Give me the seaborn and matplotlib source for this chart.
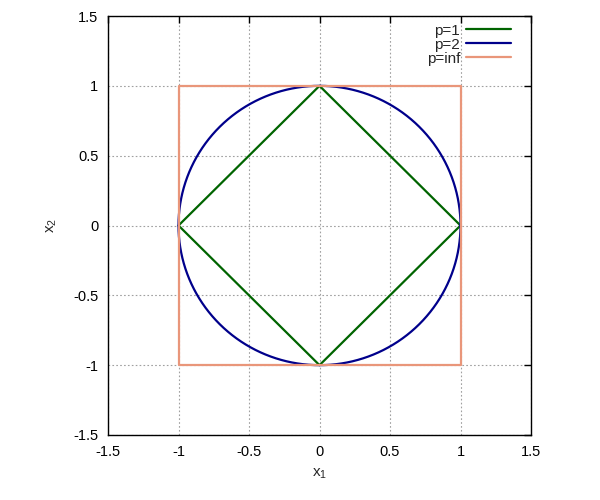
import numpy as np
import pandas as pd
import matplotlib
matplotlib.use("Agg")
import matplotlib.pyplot as plt
import seaborn as sns

# unit balls of the p-norm
p_labels = ["p=1", "p=2", "p=inf"]
p_values = [1.0, 2.0, np.inf]
colors = ["#006400", "#00008b", "#e9967a"]
ticks = [-1.5, -1, -0.5, 0, 0.5, 1, 1.5]
tick_labels = ["-1.5", "-1", "-0.5", "0", "0.5", "1", "1.5"]

t = np.linspace(0, 2 * np.pi, 801)
rows = []
for lab, p in zip(p_labels, p_values):
    d = np.c_[np.cos(t), np.sin(t)]
    n = np.linalg.norm(d, ord=p, axis=1)
    xy = d / n[:, None]
    rows.append(pd.DataFrame({"x1": xy[:, 0], "x2": xy[:, 1], "norm": lab}))
df = pd.concat(rows, ignore_index=True)

sns.set_style("white")
plt.rcParams["font.family"] = ["Liberation Sans", "DejaVu Sans"]

fig = plt.figure(figsize=(6, 5), dpi=100)
ax = fig.add_axes([0.18, 0.13, 0.705, 0.838])
sns.lineplot(data=df, x="x1", y="x2", hue="norm", palette=colors, sort=False,
             estimator=None, linewidth=1.6, ax=ax)

ax.set_xlim(-1.5, 1.5)
ax.set_ylim(-1.5, 1.5)
ax.set_xticks(ticks)
ax.set_xticklabels(tick_labels)
ax.set_yticks(ticks)
ax.set_yticklabels(tick_labels)
ax.tick_params(direction="in", top=True, right=True, length=5, width=1,
               labelsize=10.5, colors="black", pad=7)
ax.grid(True, color="#a0a0a0", linestyle=(0, (1.5, 2)), linewidth=0.8)
for s in ax.spines.values():
    s.set_color("black")
    s.set_linewidth(1)
ax.set_xlabel(r"$\mathregular{x_1}$", fontsize=11, labelpad=6)
ax.set_ylabel(r"$\mathregular{x_2}$", fontsize=11, labelpad=10)

leg = ax.legend(loc="upper right", bbox_to_anchor=(1 - 12 / 423, 1), frameon=False,
                markerfirst=False, fontsize=11, handlelength=2.95, labelspacing=0.0,
                borderaxespad=0.1, handletextpad=0.4)
for txt in leg.get_texts():
    txt.set_ha("right")
leg._legend_box.align = "right"

fig.savefig("out.png", dpi=100)
